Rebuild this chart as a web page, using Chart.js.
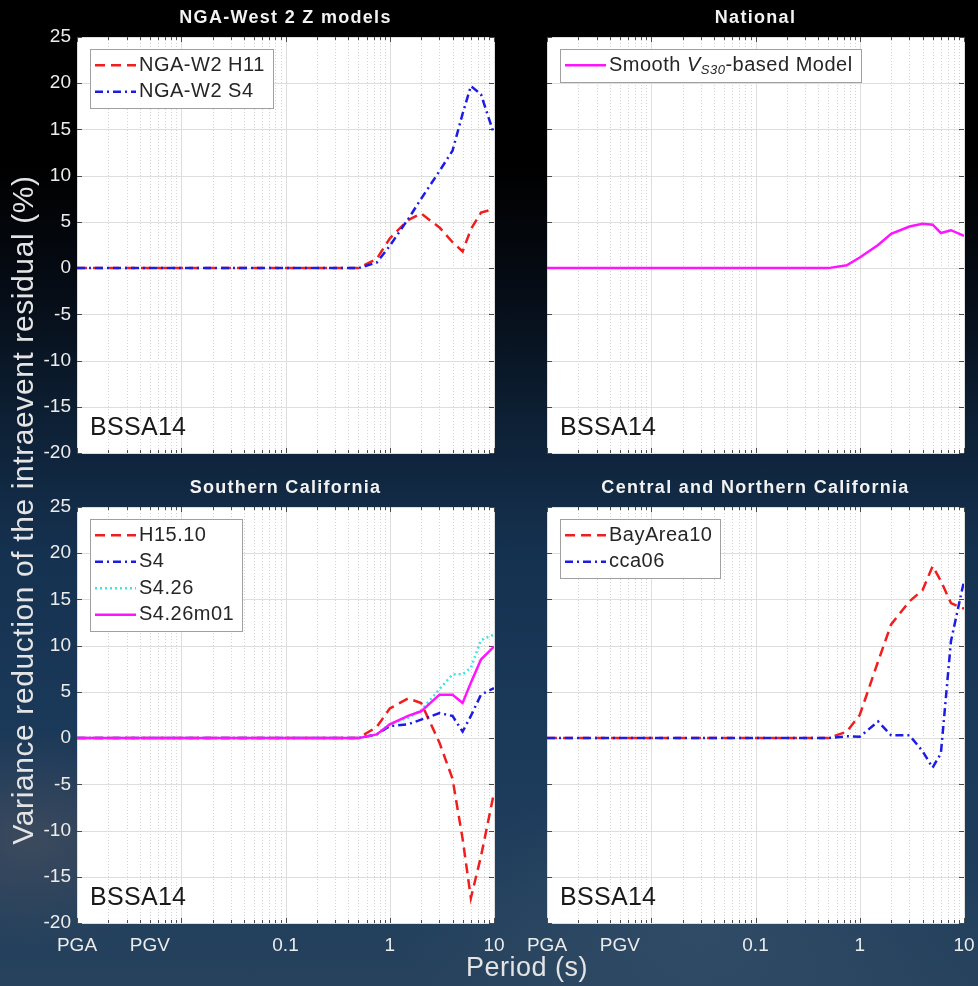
<!DOCTYPE html>
<html>
<head>
<meta charset="utf-8">
<script src="https://cdn.jsdelivr.net/npm/chart.js@4.4.1/dist/chart.umd.min.js"></script>
<style>
html,body{margin:0;padding:0;width:978px;height:986px;overflow:hidden;}
body{
  background:
    radial-gradient(ellipse 170px 110px at 30px 840px, rgba(130,105,100,0.30), rgba(0,0,0,0)),
    radial-gradient(ellipse 300px 160px at 700px 930px, rgba(90,110,130,0.25), rgba(0,0,0,0)),
    linear-gradient(to bottom, #000000 0%, #000000 17%, #060d17 30%, #0d1f33 42%, #153150 56%, #1a3858 72%, #1f3d5b 88%, #26425d 100%);
}
canvas{position:absolute;left:0;top:0;}
</style>
</head>
<body>
<canvas id="c0" width="978" height="986"></canvas>
<canvas id="c1" width="978" height="986"></canvas>
<canvas id="c2" width="978" height="986"></canvas>
<canvas id="c3" width="978" height="986"></canvas>
<script>
// ---------------- DATA ----------------
// Plotting positions (s); PGA and PGV are placed at 0.001 and 0.005
const PERIODS = [0.001, 0.005, 0.01, 0.02, 0.03, 0.05, 0.075, 0.1, 0.15, 0.2, 0.25, 0.3, 0.4, 0.5, 0.75, 1, 1.5, 2, 3, 4, 5, 6, 7.5, 10];
const X_TICK_VALUES = [0.001, 0.005, 0.1, 1, 10];
const X_TICK_LABELS = ['PGA', 'PGV', '0.1', '1', '10'];

// Panel 1: NGA-West 2 Z models
const NGA_W2_H11 = [0,0,0,0,0,0,0,0,0,0,0,0,0,0, 1.0, 3.2, 5.2, 5.9, 4.4, 2.8, 1.8, 4.2, 6.0, 6.4];
const NGA_W2_S4  = [0,0,0,0,0,0,0,0,0,0,0,0,0,0, 0.6, 2.4, 5.3, 7.5, 10.5, 12.7, 16.7, 19.7, 18.8, 14.5];

// Panel 2: National
const SMOOTH_VS30 = [0,0,0,0,0,0,0,0,0,0,0,0,0,0, 0.3, 1.15, 2.5, 3.7, 4.5, 4.8, 4.7, 3.8, 4.1, 3.5];

// Panel 3: Southern California
const H15_10   = [0,0,0,0,0,0,0,0,0,0,0,0,0,0, 1.2, 3.2, 4.3, 3.8, -0.5, -4.4, -10.9, -17.3, -12.8, -5.9];
const SC_S4    = [0,0,0,0,0,0,0,0,0,0,0,0,0,0, 0.4, 1.3, 1.5, 2.0, 2.7, 2.4, 0.7, 2.4, 4.7, 5.4];
const S4_26    = [0,0,0,0,0,0,0,0,0,0,0,0,0,0, 0.4, 1.5, 2.2, 3.0, 5.3, 6.9, 6.9, 7.6, 10.6, 11.2];
const S4_26M01 = [0,0,0,0,0,0,0,0,0,0,0,0,0,0, 0.4, 1.5, 2.4, 2.9, 4.7, 4.7, 3.8, 6.0, 8.5, 9.9];

// Panel 4: Central and Northern California
const BAYAREA10 = [0,0,0,0,0,0,0,0,0,0,0,0,0,0, 0.7, 2.5, 8.3, 12.3, 14.8, 16.0, 18.6, 17.0, 14.6, 14.0];
const CCA06     = [0,0,0,0,0,0,0,0,0,0,0,0,0,0, 0.2, 0.15, 1.8, 0.3, 0.3, -1.4, -3.2, -1.65, 10.5, 17.0];

const Y_MIN = -20, Y_MAX = 25, Y_STEP = 5;
const PANEL_TITLES = ['NGA-West 2 Z models', 'National', 'Southern California', 'Central and Northern California'];
const GMM_LABEL = 'BSSA14';
const Y_TITLE = 'Variance reduction of the intraevent residual (%)';
const X_TITLE = 'Period (s)';

// ---------------- STYLE ----------------
const FONT = '"Liberation Sans", Arial, Helvetica, sans-serif';
const RED = '#f01e1e', BLUE = '#1c1ce6', CYAN = '#3fe3e3', MAGENTA = '#ff14ff';
const DASH = [10, 6], DASHDOT = [8, 4, 2, 4], DOT = [2, 3];
const LW = 2.5;

function series(label, values, color, dash, extra) {
  return Object.assign({
    label: label,
    data: PERIODS.map((p, i) => ({x: p, y: values[i]})),
    borderColor: color,
    backgroundColor: color,
    borderWidth: LW,
    borderDash: dash,
    pointRadius: 0,
    pointHoverRadius: 0,
    tension: 0,
    fill: false
  }, extra || {});
}

// grid positions for log axis: 1..9 x decade
const X_GRID = [];
for (let e = -3; e <= 0; e++) for (let m = 1; m <= 9; m++) X_GRID.push({v: m * Math.pow(10, e), major: m === 1});
X_GRID.push({v: 10, major: true});

function measureLabel(ctx, d) {
  if (!d.legendParts) return ctx.measureText(d.label).width;
  let w = 0;
  for (const p of d.legendParts) {
    ctx.font = (p.i ? 'italic ' : '') + (p.sub ? '13px ' : '20px ') + FONT;
    w += ctx.measureText(p.t).width;
  }
  ctx.font = '20px ' + FONT;
  return w;
}
function drawLabel(ctx, d, x, cy) {
  ctx.fillStyle = '#262626';
  ctx.textBaseline = 'middle';
  ctx.textAlign = 'left';
  if (!d.legendParts) { ctx.font = '20px ' + FONT; ctx.fillText(d.label, x, cy); return; }
  for (const p of d.legendParts) {
    ctx.font = (p.i ? 'italic ' : '') + (p.sub ? '13px ' : '20px ') + FONT;
    ctx.fillText(p.t, x, cy + (p.sub ? 5 : 0));
    x += ctx.measureText(p.t).width;
  }
}

function panelPlugin(idx, drawAxisTitles) {
  return {
    id: 'panel' + idx,
    beforeDatasetsDraw(chart) {
      const {ctx, chartArea: a} = chart;
      const x = chart.scales.x, y = chart.scales.y;
      ctx.save();
      ctx.fillStyle = '#ffffff';
      ctx.fillRect(a.left, a.top, a.right - a.left, a.bottom - a.top);
      // vertical grid
      for (const g of X_GRID) {
        const px = Math.round(x.getPixelForValue(g.v)) + 0.5;
        ctx.beginPath();
        if (g.major) { ctx.setLineDash([]); ctx.strokeStyle = '#dedede'; }
        else { ctx.setLineDash([1, 2]); ctx.strokeStyle = '#d2d2d2'; }
        ctx.lineWidth = 1;
        ctx.moveTo(px, a.top); ctx.lineTo(px, a.bottom); ctx.stroke();
      }
      ctx.setLineDash([]);
      // horizontal grid
      for (const t of y.ticks) {
        const py = Math.round(y.getPixelForValue(t.value)) + 0.5;
        ctx.strokeStyle = '#dedede';
        ctx.beginPath(); ctx.moveTo(a.left, py); ctx.lineTo(a.right, py); ctx.stroke();
      }
      // inward tick marks
      ctx.strokeStyle = '#4a4a4a';
      for (const g of X_GRID) {
        const px = Math.round(x.getPixelForValue(g.v)) + 0.5;
        const len = g.major ? 5 : 3;
        ctx.beginPath();
        ctx.moveTo(px, a.top); ctx.lineTo(px, a.top + len);
        ctx.moveTo(px, a.bottom); ctx.lineTo(px, a.bottom - len);
        ctx.stroke();
      }
      for (const t of y.ticks) {
        const py = Math.round(y.getPixelForValue(t.value)) + 0.5;
        ctx.beginPath();
        ctx.moveTo(a.left, py); ctx.lineTo(a.left + 5, py);
        ctx.moveTo(a.right, py); ctx.lineTo(a.right - 5, py);
        ctx.stroke();
      }
      ctx.restore();
    },
    afterDraw(chart) {
      const {ctx, chartArea: a} = chart;
      const ds = chart.data.datasets;
      ctx.save();
      // legend
      ctx.letterSpacing = '0.5px';
      ctx.font = '20px ' + FONT;
      const textW = Math.max(...ds.map(d => measureLabel(ctx, d)));
      const x0 = a.left + 13, y0 = a.top + 12;
      const rowH = 26.5, padY = 3;
      const sx = x0 + 5, sLen = 41, tx = sx + sLen + 3;
      const w = Math.round(tx - x0 + textW + 8), h = Math.round(ds.length * rowH + 2 * padY);
      ctx.fillStyle = '#ffffff';
      ctx.fillRect(x0, y0, w, h);
      ctx.strokeStyle = '#a0a0a0'; ctx.lineWidth = 1;
      ctx.strokeRect(x0 + 0.5, y0 + 0.5, w, h);
      ds.forEach((d, i) => {
        const cy = y0 + padY + rowH * (i + 0.5);
        ctx.save();
        ctx.strokeStyle = d.borderColor; ctx.lineWidth = d.borderWidth;
        ctx.setLineDash(d.borderDash || []);
        ctx.beginPath(); ctx.moveTo(sx, cy); ctx.lineTo(sx + sLen, cy); ctx.stroke();
        ctx.restore();
        drawLabel(ctx, d, tx, cy);
      });
      // model label
      ctx.letterSpacing = '0.3px';
      ctx.fillStyle = '#1a1a1a';
      ctx.font = '25px ' + FONT;
      ctx.textAlign = 'left'; ctx.textBaseline = 'alphabetic';
      ctx.fillText(GMM_LABEL, a.left + 13, a.bottom - 18);
      // panel title
      ctx.letterSpacing = '1.3px';
      ctx.fillStyle = '#f2f2f2';
      ctx.font = 'bold 18px ' + FONT;
      ctx.textAlign = 'center'; ctx.textBaseline = 'middle';
      ctx.fillText(PANEL_TITLES[idx], (a.left + a.right) / 2, a.top - 19);
      if (drawAxisTitles) {
        ctx.letterSpacing = '0.6px';
        ctx.fillStyle = '#e4e4e4';
        ctx.font = '30px ' + FONT;
        ctx.save();
        ctx.translate(25, 510);
        ctx.rotate(-Math.PI / 2);
        ctx.textAlign = 'center'; ctx.textBaseline = 'middle';
        ctx.fillText(Y_TITLE, 0, 0);
        ctx.restore();
        ctx.letterSpacing = '0.5px';
        ctx.font = '27px ' + FONT;
        ctx.textAlign = 'center'; ctx.textBaseline = 'middle';
        ctx.fillText(X_TITLE, 527, 969);
      }
      ctx.restore();
    }
  };
}

function makePanel(idx, canvasId, area, datasets, showY, showX) {
  const YW = 40, XH = 40;
  datasets.forEach((d, i) => { d.order = -i; });
  return new Chart(document.getElementById(canvasId), {
    type: 'line',
    data: {datasets: datasets},
    options: {
      responsive: false,
      animation: false,
      events: [],
      layout: {padding: {left: area.L - YW, top: area.T, right: 978 - area.R, bottom: 986 - area.B - XH}},
      plugins: {legend: {display: false}, tooltip: {enabled: false}, title: {display: false}},
      scales: {
        x: {
          type: 'logarithmic', position: 'bottom',
          min: 0.001, max: 10,
          grid: {display: false, drawTicks: false}, border: {display: false},
          afterBuildTicks: s => { s.ticks = X_TICK_VALUES.map(v => ({value: v})); },
          afterFit: s => { s.height = XH; s.paddingLeft = 0; s.paddingRight = 0; },
          ticks: {
            display: showX, autoSkip: false, maxRotation: 0, padding: 11,
            color: '#ececec', font: {family: FONT, size: 19},
            callback: (v, i) => X_TICK_LABELS[i]
          }
        },
        y: {
          type: 'linear', position: 'left',
          min: Y_MIN, max: Y_MAX,
          grid: {display: false, drawTicks: false}, border: {display: false},
          afterFit: s => { s.width = YW; s.paddingTop = 0; s.paddingBottom = 0; },
          ticks: {
            display: showY, stepSize: Y_STEP, padding: 6,
            color: '#ececec', font: {family: FONT, size: 19}
          }
        }
      }
    },
    plugins: [panelPlugin(idx, idx === 0)]
  });
}

makePanel(0, 'c0', {L: 77, T: 37, R: 494, B: 453}, [
  series('NGA-W2 H11', NGA_W2_H11, RED, DASH),
  series('NGA-W2 S4', NGA_W2_S4, BLUE, DASHDOT)
], true, false);

makePanel(1, 'c1', {L: 547, T: 37, R: 964, B: 453}, [
  series('Smooth VS30-based Model', SMOOTH_VS30, MAGENTA, [], {
    legendParts: [{t: 'Smooth '}, {t: 'V', i: true}, {t: 'S30', i: true, sub: true}, {t: '-based Model'}]
  })
], false, false);

makePanel(2, 'c2', {L: 77, T: 507, R: 494, B: 923}, [
  series('H15.10', H15_10, RED, DASH),
  series('S4', SC_S4, BLUE, DASHDOT),
  series('S4.26', S4_26, CYAN, DOT),
  series('S4.26m01', S4_26M01, MAGENTA, [])
], true, true);

makePanel(3, 'c3', {L: 547, T: 507, R: 964, B: 923}, [
  series('BayArea10', BAYAREA10, RED, DASH),
  series('cca06', CCA06, BLUE, DASHDOT)
], false, true);
</script>
</body>
</html>
